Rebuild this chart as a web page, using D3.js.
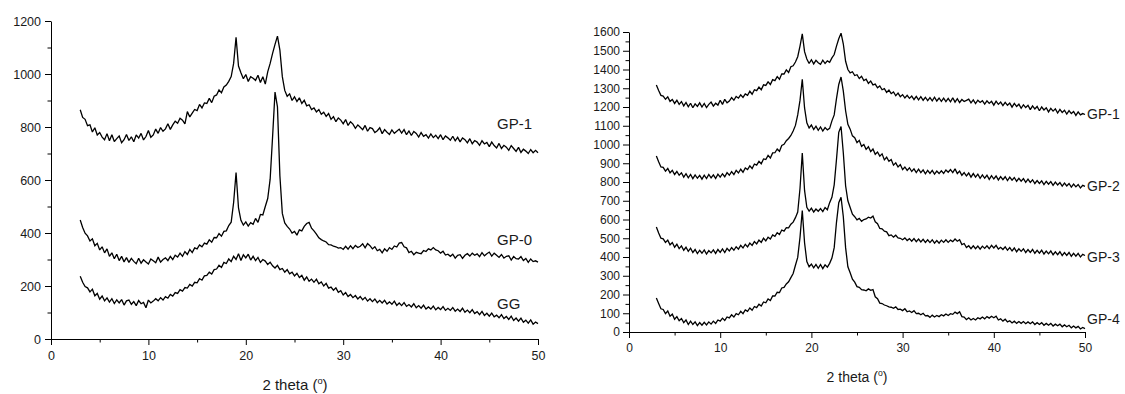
<!DOCTYPE html>
<html>
<head>
<meta charset="utf-8">
<script src="https://cdn.jsdelivr.net/npm/d3@7"></script>
<style>
  html, body { margin: 0; padding: 0; background: #fff; }
  svg { display: block; }
  text { font-family: "Liberation Sans", Arial, sans-serif; fill: #1a1a1a; }
</style>
</head>
<body>
<svg id="chart" width="1125" height="394"></svg>
<script>
// 2-theta sampling grid (degrees), 0.25 step from 3 to 50
const thetaStart = 3, thetaStep = 0.25;

// ---- Left panel series ----
const leftGP1 = [
 865,836,829,805, 808,781,797,770, 779,762,752,775, 748,771,745,756, 766,741,752,772,
 749,763,744,770, 758,776,751,764, 787,761,770,792, 776,798,784,793, 812,791,808,822,
 814,833,826,812, 858,838,852,866, 862,885,872,891, 889,908,892,916, 921,940,929,951,
 958,972,990,1040, 1138,1030,1005,982, 998,972,990,984, 976,995,968,990, 962,1008,1040,1078,
 1112,1143,1090,990, 938,916,925,900, 914,896,910,889, 901,880,884,866, 872,857,866,848,
 856,840,851,829, 839,820,834,826, 812,828,806,820, 811,795,808,799, 790,806,784,798,
 794,779,786,797, 775,790,780,772, 789,776,784,792, 777,790,771,785, 768,783,776,762,
 779,765,771,758, 774,760,769,756, 771,752,766,759, 750,765,748,761, 744,759,752,740,
 756,737,749,743, 731,748,736,742, 726,743,730,721, 738,719,731,724, 712,730,719,708,
 723,704,716,709, 700,715,703,712, 703];
const leftGP0 = [
 449,421,399,389, 370,378,352,361, 336,348,325,340, 312,325,303,320, 296,312,291,307,
 289,304,293,284, 305,286,299,291, 283,302,295,288, 309,290,300,306, 296,312,300,316,
 309,324,312,330, 319,338,326,344, 340,355,348,362, 358,374,365,383, 382,398,388,406,
 408,428,441,515, 628,495,448,430, 442,426,439,433, 455,440,470,468, 500,530,603,763,
 932,876,616,474, 438,425,415,400, 406,392,412,408, 425,436,440,418, 408,396,382,375,
 370,366,356,355, 350,348,343,345, 338,350,339,352, 341,353,345,350, 359,344,360,352,
 340,348,333,338, 325,340,331,345, 338,351,347,362, 364,348,344,326, 331,318,327,324,
 322,334,330,340, 336,345,336,333, 324,331,317,320, 312,320,305,316, 318,304,316,322,
 313,324,316,321, 311,326,314,322, 328,313,324,316, 308,319,305,312, 314,298,311,303,
 302,311,296,304, 289,302,292,295, 290];
const leftGG = [
 237,214,198,193, 178,188,163,172, 150,162,144,155, 139,152,134,148, 136,149,128,144,
 147,131,141,126, 145,133,138,118, 147,136,143,152, 144,156,147,160, 154,168,162,175,
 172,186,181,194, 192,206,200,214, 212,228,222,238, 240,252,245,262, 264,278,270,289,
 285,302,292,312, 300,322,296,318, 306,320,298,312, 296,308,289,300, 294,281,290,276,
 268,278,262,266, 252,262,246,252, 238,248,232,240, 222,234,218,226, 214,226,208,215,
 200,210,192,196, 184,193,176,182, 166,175,160,168, 156,164,151,160, 148,157,143,152,
 141,151,137,146, 136,146,132,140, 131,143,127,136, 126,137,123,130, 121,133,118,126,
 116,128,113,121, 113,124,110,119, 111,122,108,116, 108,119,105,113, 104,116,101,109,
 99,111,96,103, 92,104,89,97, 86,98,84,90, 80,92,77,85, 74,86,70,79,
 67,79,63,71, 60,72,56,64, 58];

// ---- Right panel series ----
const rightGP1 = [
 1317,1288,1262,1258, 1241,1254,1230,1240, 1219,1236,1214,1229, 1206,1224,1201,1220, 1196,1217,1203,1222,
 1200,1219,1197,1214, 1226,1205,1220,1210, 1236,1214,1241,1222, 1232,1250,1236,1256, 1247,1265,1251,1270,
 1262,1284,1268,1292, 1287,1306,1292,1318, 1315,1334,1320,1346, 1341,1362,1348,1377, 1376,1398,1384,1415,
 1420,1440,1468,1525, 1590,1495,1456,1432, 1452,1430,1449,1436, 1428,1450,1432,1446, 1438,1462,1480,1525,
 1564,1594,1536,1444, 1400,1382,1388,1368, 1372,1352,1364,1341, 1348,1326,1338,1318, 1322,1302,1312,1292,
 1298,1278,1290,1271, 1280,1260,1274,1255, 1266,1248,1262,1246, 1258,1240,1257,1238, 1255,1236,1252,1234,
 1250,1233,1252,1232, 1248,1230,1247,1229, 1246,1228,1249,1226, 1244,1224,1240,1229, 1235,1242,1222,1238,
 1218,1236,1224,1234, 1215,1233,1219,1230, 1210,1231,1214,1226, 1207,1225,1209,1221, 1199,1219,1203,1215,
 1193,1212,1197,1209, 1186,1206,1190,1203, 1180,1200,1184,1196, 1174,1193,1178,1190, 1168,1187,1171,1183,
 1162,1181,1165,1176, 1155,1174,1158,1165, 1160];
const rightGP2 = [
 939,908,880,878, 858,872,849,862, 840,856,836,849, 826,844,822,840, 818,838,820,835,
 815,836,818,840, 822,838,819,842, 826,844,828,850, 836,855,840,862, 848,868,852,875,
 866,886,872,896, 890,910,897,923, 920,942,928,955, 956,976,964,995, 1001,1020,1032,1048,
 1072,1102,1158,1235, 1348,1195,1116,1088, 1104,1080,1098,1076, 1094,1072,1090,1078, 1086,1126,1158,1245,
 1320,1360,1285,1180, 1108,1082,1046,1036, 1010,1022,990,1000, 974,988,962,976, 948,960,938,950,
 918,932,910,920, 890,902,880,893, 866,880,862,876, 856,870,850,868, 850,865,844,862,
 846,862,842,858, 845,860,846,864, 852,866,850,870, 845,858,836,850, 832,848,826,845,
 826,842,820,838, 820,836,814,834, 816,832,811,829, 812,828,808,826, 810,824,804,820,
 804,818,798,815, 798,812,792,808, 792,806,786,803, 788,802,782,799, 784,797,778,794,
 779,792,773,789, 774,787,768,782, 777];
const rightGP3 = [
 560,528,500,497, 478,490,465,477, 452,468,445,459, 436,452,430,447, 424,440,418,436,
 420,438,416,434, 422,438,419,440, 425,443,424,446, 432,450,436,455, 442,462,448,468,
 454,474,462,482, 470,490,478,500, 486,506,496,518, 510,530,520,544, 538,556,555,575,
 586,610,640,765, 955,755,665,645, 660,640,656,644, 658,642,664,652, 690,718,785,920,
 1065,1096,955,780, 700,664,628,615, 598,606,590,600, 603,612,608,618, 588,578,552,550,
 538,534,514,518, 506,516,502,500, 492,502,488,498, 484,498,482,496, 480,494,478,492,
 477,492,474,488, 474,490,478,492, 478,490,482,496, 484,492,466,472, 450,460,444,460,
 444,458,442,458, 446,460,444,462, 448,462,442,452, 440,454,436,450, 432,448,428,444,
 430,444,424,440, 424,440,420,436, 420,436,416,432, 417,432,412,428, 412,428,408,424,
 408,424,404,420, 404,419,400,414, 408];
const rightGP4 = [
 181,152,124,120, 98,112,84,95, 68,82,60,72, 50,64,40,58, 40,54,34,50,
 36,52,38,54, 42,58,46,64, 58,74,62,80, 75,92,80,98, 92,110,98,118,
 110,128,116,136, 130,148,138,160, 156,176,168,192, 192,212,210,235, 238,256,268,290,
 312,356,398,505, 648,476,376,348, 362,342,360,340, 360,338,358,346, 366,394,450,585,
 690,718,615,450, 348,316,282,266, 242,238,226,224, 220,230,222,226, 188,178,154,152,
 144,140,134,132, 126,134,120,122, 114,124,108,112, 104,114,98,100, 92,100,86,88,
 78,90,80,88, 82,92,86,96, 88,98,94,106, 98,108,82,80, 66,76,64,72,
 64,76,70,80, 70,82,74,84, 76,84,64,70, 58,68,54,60, 48,58,46,56,
 46,56,44,54, 44,54,40,50, 40,50,36,46, 36,46,32,42, 33,42,28,38,
 28,36,22,32, 22,30,16,24, 18];

// ---- Axis ticks & labels ----
const xTicks = [0, 10, 20, 30, 40, 50];
const xMinorTicks = [5, 15, 25, 35, 45];
const leftYTicks = [0, 200, 400, 600, 800, 1000, 1200];
const leftYMinor = [100, 300, 500, 700, 900, 1100];
const rightYTicks = [0,100,200,300,400,500,600,700,800,900,1000,1100,1200,1300,1400,1500,1600];
const rightYMinor = [50,150,250,350,450,550,650,750,850,950,1050,1150,1250,1350,1450,1550];
const leftLabels = ["GP-1", "GP-0", "GG"];
const rightLabels = ["GP-1", "GP-2", "GP-3", "GP-4"];
const xTitle = "2 theta (";

const svg = d3.select("#chart");

function panel(cfg) {
  const x = d3.scaleLinear().domain([0, 50]).range([cfg.x0, cfg.x1]);
  const y = d3.scaleLinear().domain([0, cfg.ymax]).range([cfg.y0, cfg.y1]);
  const g = svg.append("g");

  // minor ticks
  g.append("g").attr("transform", `translate(0,${cfg.y0})`)
    .call(d3.axisBottom(x).tickValues(xMinorTicks).tickSize(3.5).tickFormat(""))
    .call(a => a.select(".domain").remove())
    .call(a => a.selectAll("line").attr("stroke", "#000"));
  g.append("g").attr("transform", `translate(${cfg.x0},0)`)
    .call(d3.axisLeft(y).tickValues(cfg.yMinor).tickSize(3.5).tickFormat(""))
    .call(a => a.select(".domain").remove())
    .call(a => a.selectAll("line").attr("stroke", "#000"));

  // major axes
  const xa = g.append("g").attr("transform", `translate(0,${cfg.y0})`)
    .call(d3.axisBottom(x).tickValues(xTicks).tickSize(6).tickSizeOuter(0).tickPadding(cfg.xPad).tickFormat(d3.format("d")));
  const ya = g.append("g").attr("transform", `translate(${cfg.x0},0)`)
    .call(d3.axisLeft(y).tickValues(cfg.yTicks).tickSize(6).tickSizeOuter(0).tickPadding(cfg.yPad).tickFormat(d3.format("d")));
  [xa, ya].forEach(a => {
    a.selectAll("text").attr("font-size", cfg.tickFont).attr("font-family", '"Liberation Sans", Arial, sans-serif').attr("fill", "#1a1a1a");
    a.selectAll("line,path").attr("stroke", "#000").attr("stroke-width", 1);
  });

  // data lines
  const line = d3.line()
    .x((d, i) => x(thetaStart + i * thetaStep))
    .y(d => y(d));
  cfg.series.forEach(s => {
    g.append("path").datum(s)
      .attr("fill", "none").attr("stroke", "#000")
      .attr("stroke-width", 1.3).attr("stroke-linejoin", "miter").attr("stroke-miterlimit", 2)
      .attr("d", line);
  });

  // curve labels
  cfg.labels.forEach((t, i) => {
    g.append("text").attr("x", cfg.labelX).attr("y", cfg.labelY[i])
      .attr("font-size", cfg.labelFont).attr("dominant-baseline", "middle").text(t);
  });

  // axis title
  const tt = g.append("text").attr("x", cfg.titleX).attr("y", cfg.titleY)
    .attr("text-anchor", "middle").attr("font-size", cfg.titleFont);
  tt.append("tspan").text(xTitle);
  tt.append("tspan").attr("font-size", cfg.titleFont * 0.62).attr("dy", -cfg.titleFont * 0.42).text("o");
  tt.append("tspan").attr("dy", cfg.titleFont * 0.42).text(")");
}

panel({
  x0: 51, x1: 538, y0: 339, y1: 21, ymax: 1200,
  yTicks: leftYTicks, yMinor: leftYMinor,
  series: [leftGP1, leftGP0, leftGG],
  labels: leftLabels, labelX: 497, labelY: [125, 241, 305], labelFont: 15,
  tickFont: 12.5, xPad: 6, yPad: 4,
  titleX: 295, titleY: 390, titleFont: 15
});

panel({
  x0: 629, x1: 1085, y0: 332, y1: 32, ymax: 1600,
  yTicks: rightYTicks, yMinor: rightYMinor,
  series: [rightGP1, rightGP2, rightGP3, rightGP4],
  labels: rightLabels, labelX: 1087, labelY: [115, 187, 258, 320], labelFont: 14,
  tickFont: 12, xPad: 5, yPad: 3,
  titleX: 857, titleY: 382, titleFont: 14
});
</script>
</body>
</html>
